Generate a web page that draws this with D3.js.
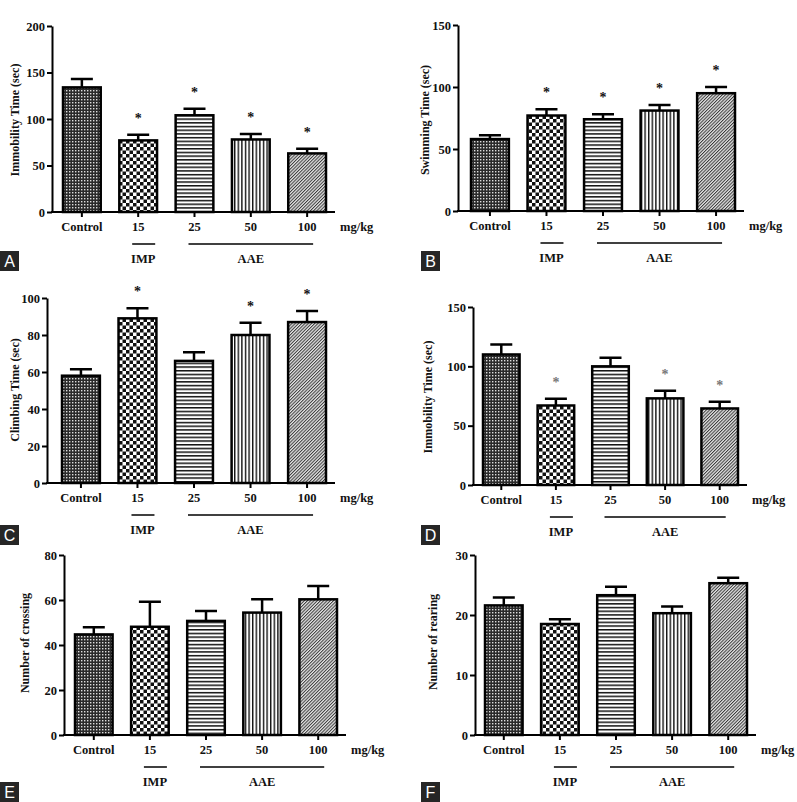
<!DOCTYPE html>
<html>
<head>
<meta charset="utf-8">
<script src="https://cdn.jsdelivr.net/npm/d3@7"></script>
<style>
  body { margin: 0; background: #fff; }
  text { font-family: "Liberation Serif", "Times New Roman", serif; font-weight: bold; fill: #111; }
  .letter { font-family: "Liberation Sans", Arial, sans-serif; font-weight: normal; fill: #fff; }
</style>
</head>
<body>
<script>
const w = 797;
const h = 802;

const categories = ["Control", "15", "25", "50", "100"];
const patterns = ["pCtrl", "pCheck", "pHoriz", "pVert", "pDiag"];

// A - forced swim test immobility
const immobilityA = [134, 77, 104, 78, 63];
const immobilityAErr = [9, 6, 7, 6, 5];
const immobilityASig = [false, true, true, true, true];
// B - swimming
const swimmingB = [58, 77, 74, 81, 95];
const swimmingBErr = [3, 5, 4, 4.5, 5];
const swimmingBSig = [false, true, true, true, true];
// C - climbing
const climbingC = [58, 89, 66, 80, 87];
const climbingCErr = [3.5, 5.5, 4.7, 6.6, 6];
const climbingCSig = [false, true, false, true, true];
// D - tail suspension immobility
const immobilityD = [110, 67, 100, 73, 64.5];
const immobilityDErr = [8.4, 5.6, 7.3, 6.4, 5.6];
const immobilityDSig = [false, true, false, true, true];
// E - crossing
const crossingE = [44.7, 48.1, 50.7, 54.4, 60.3];
const crossingEErr = [3.2, 11.1, 4.4, 5.9, 5.9];
// F - rearing
const rearingF = [21.6, 18.5, 23.3, 20.3, 25.3];
const rearingFErr = [1.3, 0.8, 1.4, 1.1, 0.9];

const panels = [
  {letter: "A", label: "Immobility Time (sec)", values: immobilityA, err: immobilityAErr, sig: immobilityASig,
   max: 200, step: 50, ax: 52, yTop: 26, y0: 212, bl: 63, br: 326, lx: 15, ly: 120, box: [0, 251]},
  {letter: "B", label: "Swimming Time (sec)", values: swimmingB, err: swimmingBErr, sig: swimmingBSig,
   max: 150, step: 50, ax: 458, yTop: 25, y0: 211, bl: 471, br: 735, lx: 425, ly: 120, box: [421, 251]},
  {letter: "C", label: "Climbing Time (sec)", values: climbingC, err: climbingCErr, sig: climbingCSig,
   max: 100, step: 20, ax: 47, yTop: 298, y0: 483, bl: 62, br: 326, lx: 15, ly: 390, box: [0, 525]},
  {letter: "D", label: "Immobility Time (sec)", values: immobilityD, err: immobilityDErr, sig: immobilityDSig,
   max: 150, step: 50, ax: 473, yTop: 307, y0: 485, bl: 483, br: 738, lx: 428, ly: 397, box: [421, 525], starColor: "#777"},
  {letter: "E", label: "Number of crossing", values: crossingE, err: crossingEErr, sig: null,
   max: 80, step: 20, ax: 64, yTop: 555, y0: 735, bl: 75, br: 337, lx: 25, ly: 643, box: [0, 782]},
  {letter: "F", label: "Number of rearing", values: rearingF, err: rearingFErr, sig: null,
   max: 30, step: 10, ax: 475, yTop: 555, y0: 735, bl: 485, br: 747, lx: 433, ly: 642, box: [421, 782]}
];

const svg = d3.select("body")
              .append("svg")
              .attr("width", w)
              .attr("height", h);

const defs = svg.append("defs");

// fine dark checker (control)
let p = defs.append("pattern").attr("id", "pCtrl").attr("patternUnits", "userSpaceOnUse")
            .attr("width", 3).attr("height", 3);
p.append("rect").attr("width", 3).attr("height", 3).attr("fill", "#2a2a2a");
p.append("rect").attr("width", 1.4).attr("height", 1.4).attr("fill", "#ddd");

// coarse checkerboard
p = defs.append("pattern").attr("id", "pCheck").attr("patternUnits", "userSpaceOnUse")
        .attr("width", 7).attr("height", 7);
p.append("rect").attr("width", 7).attr("height", 7).attr("fill", "#fff");
p.append("rect").attr("width", 3.5).attr("height", 3.5).attr("fill", "#111");
p.append("rect").attr("x", 3.5).attr("y", 3.5).attr("width", 3.5).attr("height", 3.5).attr("fill", "#111");

// horizontal lines
p = defs.append("pattern").attr("id", "pHoriz").attr("patternUnits", "userSpaceOnUse")
        .attr("width", 4).attr("height", 3.7);
p.append("rect").attr("width", 4).attr("height", 3.7).attr("fill", "#fff");
p.append("rect").attr("width", 4).attr("height", 1.5).attr("fill", "#111");

// vertical lines
p = defs.append("pattern").attr("id", "pVert").attr("patternUnits", "userSpaceOnUse")
        .attr("width", 3.6).attr("height", 4);
p.append("rect").attr("width", 3.6).attr("height", 4).attr("fill", "#fff");
p.append("rect").attr("width", 1.4).attr("height", 4).attr("fill", "#111");

// diagonal hatch (fine)
p = defs.append("pattern").attr("id", "pDiag").attr("patternUnits", "userSpaceOnUse")
        .attr("width", 2.3).attr("height", 3).attr("patternTransform", "rotate(45)");
p.append("rect").attr("width", 2.3).attr("height", 3).attr("fill", "#e4e4e4");
p.append("rect").attr("width", 1).attr("height", 3).attr("fill", "#3a3a3a");

panels.forEach(cfg => {
  const g = svg.append("g");

  const xScale = d3.scaleBand()
                   .domain(categories)
                   .range([cfg.bl, cfg.br])
                   .paddingInner(0.33)
                   .paddingOuter(0);

  const yScale = d3.scaleLinear()
                   .domain([0, cfg.max])
                   .range([cfg.y0, cfg.yTop]);

  const bw = xScale.bandwidth();
  const cx = d => xScale(d) + bw / 2;

  // error bars (upper only)
  g.selectAll(".err")
   .data(categories)
   .enter()
   .append("path")
   .attr("d", (d, i) => {
      const yt = yScale(cfg.values[i] + cfg.err[i]);
      const yb = yScale(cfg.values[i]);
      return "M" + cx(d) + "," + yb + "V" + yt + "M" + (cx(d) - 11) + "," + yt + "H" + (cx(d) + 11);
   })
   .attr("stroke", "#000")
   .attr("stroke-width", 2.5)
   .attr("fill", "none");

  g.selectAll(".bar")
   .data(categories)
   .enter()
   .append("rect")
   .attr("x", d => xScale(d))
   .attr("y", (d, i) => yScale(cfg.values[i]))
   .attr("width", bw)
   .attr("height", (d, i) => cfg.y0 - yScale(cfg.values[i]))
   .attr("fill", (d, i) => "url(#" + patterns[i] + ")")
   .attr("stroke", "#000")
   .attr("stroke-width", 2.5);

  if (cfg.sig) {
    g.selectAll(".star")
     .data(categories.filter((d, i) => cfg.sig[i]))
     .enter()
     .append("text")
     .attr("x", d => cx(d))
     .attr("y", d => {
        const i = categories.indexOf(d);
        return yScale(cfg.values[i] + cfg.err[i]) - 12;
     })
     .attr("text-anchor", "middle")
     .style("font-size", "14px")
     .style("fill", cfg.starColor || "#111")
     .text("*");
  }

  // axes
  const yAxis = d3.axisLeft(yScale)
                  .tickValues(d3.range(0, cfg.max + 1, cfg.step))
                  .tickSize(5)
                  .tickPadding(2)
                  .tickSizeOuter(0);
  const ya = g.append("g")
              .attr("transform", "translate(" + cfg.ax + ",0)")
              .call(yAxis);
  ya.select(".domain").attr("stroke", "#000").attr("stroke-width", 2);
  ya.selectAll(".tick line").attr("stroke-width", 2);
  ya.selectAll(".tick text").style("font-size", "12.5px").style("font-family", "Liberation Serif").style("font-weight", "bold").attr("fill", "#111");

  const xAxis = d3.axisBottom(xScale)
                  .tickSize(5)
                  .tickPadding(5)
                  .tickSizeOuter(0);
  const xa = g.append("g")
              .attr("transform", "translate(0," + cfg.y0 + ")")
              .call(xAxis);
  xa.select(".domain").remove();
  xa.selectAll(".tick line").attr("stroke-width", 2);
  xa.selectAll(".tick text").style("font-size", "12.5px").style("font-family", "Liberation Serif").style("font-weight", "bold").attr("fill", "#111");
  g.append("line")
   .attr("x1", cfg.ax - 1).attr("x2", cfg.br + 9)
   .attr("y1", cfg.y0).attr("y2", cfg.y0)
   .attr("stroke", "#000").attr("stroke-width", 2);

  g.append("text")
   .attr("x", cfg.br + 14)
   .attr("y", cfg.y0 + 19)
   .style("font-size", "12.5px")
   .text("mg/kg");

  // group lines
  const lineY = cfg.y0 + 32;
  g.append("line")
   .attr("x1", cx("15") - 6).attr("x2", cx("15") + 17)
   .attr("y1", lineY).attr("y2", lineY)
   .attr("stroke", "#000").attr("stroke-width", 1.5);
  g.append("line")
   .attr("x1", cx("25") - 6).attr("x2", cx("100") + 6)
   .attr("y1", lineY).attr("y2", lineY)
   .attr("stroke", "#000").attr("stroke-width", 1.5);
  g.append("text")
   .attr("x", cx("15") + 5).attr("y", cfg.y0 + 51)
   .attr("text-anchor", "middle")
   .style("font-size", "12.5px")
   .text("IMP");
  g.append("text")
   .attr("x", (cx("25") + cx("100")) / 2).attr("y", cfg.y0 + 51)
   .attr("text-anchor", "middle")
   .style("font-size", "12.5px")
   .text("AAE");

  // y label
  g.append("text")
   .attr("transform", "translate(" + (cfg.lx + 4) + "," + cfg.ly + ") rotate(-90)")
   .attr("text-anchor", "middle")
   .style("font-size", "12px")
   .text(cfg.label);

  // panel letter
  g.append("rect")
   .attr("x", cfg.box[0]).attr("y", cfg.box[1])
   .attr("width", 19).attr("height", 20)
   .attr("fill", "#262626");
  g.append("text")
   .attr("class", "letter")
   .attr("x", cfg.box[0] + 9.5).attr("y", cfg.box[1] + 16)
   .attr("text-anchor", "middle")
   .style("font-size", "16px")
   .text(cfg.letter);
});
</script>
</body>
</html>
